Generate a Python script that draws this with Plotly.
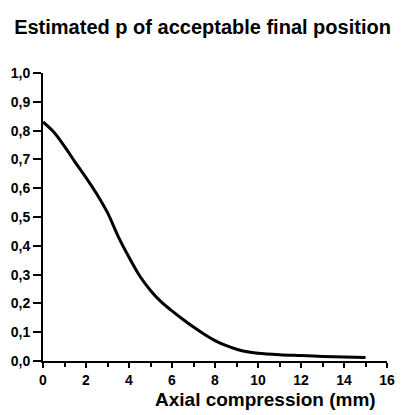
import plotly.graph_objects as go

x_mm = [0, 0.5, 1, 1.5, 2, 2.5, 3, 3.5, 4, 4.5, 5, 5.5, 6, 6.5, 7, 7.5, 8, 8.5, 9, 9.5, 10, 11, 12, 13, 14, 15]
p_est = [0.83, 0.795, 0.745, 0.69, 0.637, 0.58, 0.515, 0.432, 0.36, 0.295, 0.245, 0.205, 0.174, 0.145, 0.118, 0.093,
         0.071, 0.054, 0.041, 0.032, 0.027, 0.022, 0.019, 0.016, 0.014, 0.012]

y_ticks = [0, 0.1, 0.2, 0.3, 0.4, 0.5, 0.6, 0.7, 0.8, 0.9, 1.0]
y_labels = ["0,0", "0,1", "0,2", "0,3", "0,4", "0,5", "0,6", "0,7", "0,8", "0,9", "1,0"]
x_ticks = [0, 2, 4, 6, 8, 10, 12, 14, 16]
x_labels = ["0", "2", "4", "6", "8", "10", "12", "14", "16"]

font = "Liberation Sans, Arial, sans-serif"

fig = go.Figure()
fig.add_trace(go.Scatter(x=x_mm, y=p_est, mode="lines",
                         line=dict(color="black", width=3, shape="spline", smoothing=1.0),
                         showlegend=False))

fig.update_layout(
    width=397, height=407,
    margin=dict(l=35, r=18, t=65, b=54),
    paper_bgcolor="white", plot_bgcolor="white",
    font=dict(family=font, color="black"),
    title=dict(text="<b>Estimated p of acceptable final position</b>",
               x=0.49, xanchor="center", y=0.953, yanchor="middle",
               font=dict(size=20, family=font, color="black")),
    xaxis=dict(range=[0, 16], tickvals=x_ticks, ticktext=["<b>%s</b>" % t for t in x_labels],
               automargin=False,
               showgrid=False, zeroline=False, showline=True, linecolor="black", linewidth=2,
               ticks="outside", ticklen=5, tickwidth=2, tickcolor="black",
               minor=dict(dtick=1, ticks="outside", ticklen=4, tickwidth=2, tickcolor="black"),
               tickfont=dict(size=14, family=font, color="black")),
    yaxis=dict(range=[0, 1.0], tickvals=y_ticks, ticktext=["<b>%s</b>" % t for t in y_labels],
               automargin=False,
               showgrid=False, zeroline=False, showline=True, linecolor="black", linewidth=2,
               ticks="outside", ticklen=8, tickwidth=2, tickcolor="black",
               tickfont=dict(size=14, family=font, color="black")),
    annotations=[dict(text="<b>Axial compression (mm)</b>", xref="paper", yref="paper",
                      x=0.974, y=-0.135, xanchor="right", yanchor="middle", showarrow=False,
                      font=dict(size=19, family=font, color="black"))],
)

fig.write_html("out.html")
